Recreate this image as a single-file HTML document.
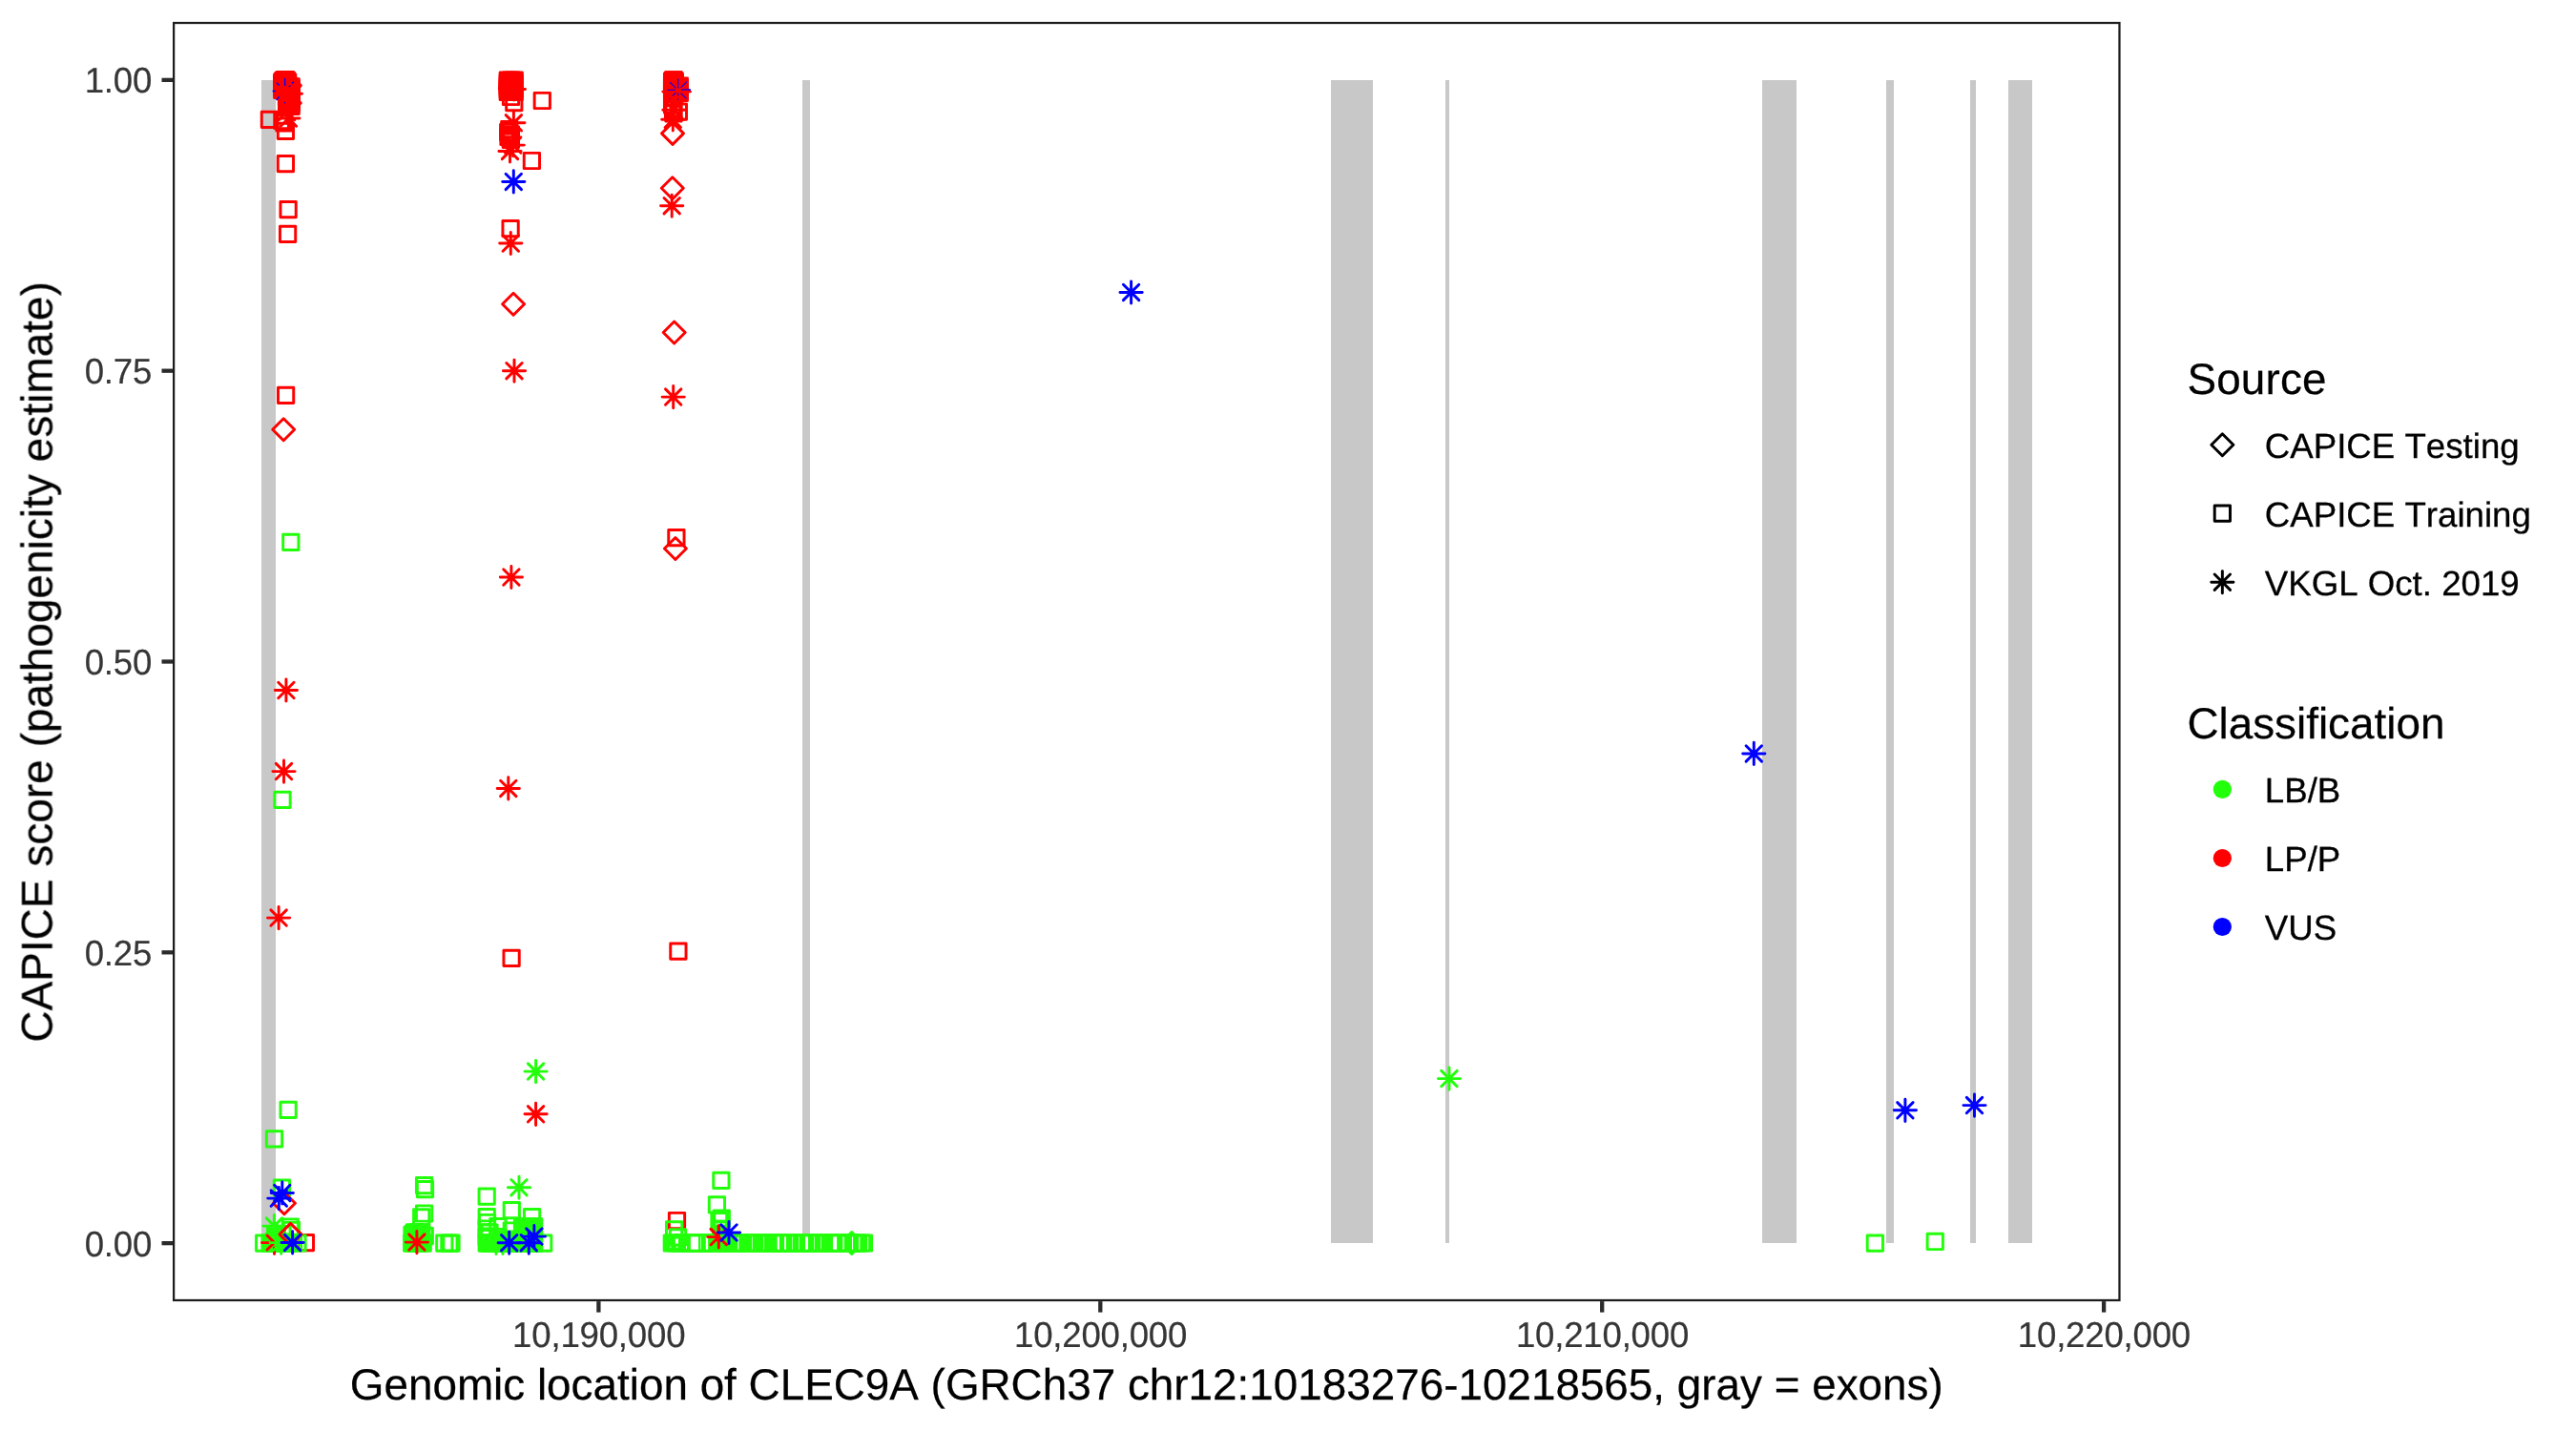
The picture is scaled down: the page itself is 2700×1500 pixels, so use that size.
<!DOCTYPE html>
<html><head><meta charset="utf-8"><title>CAPICE CLEC9A</title>
<style>html,body{margin:0;padding:0;background:#fff}svg{display:block}text{font-family:"Liberation Sans",sans-serif;font-kerning:none;font-variant-ligatures:none;text-rendering:geometricPrecision}</style></head><body>
<svg width="2700" height="1500" viewBox="0 0 2700 1500">
<rect width="2700" height="1500" fill="#fff"/>
<g fill="#C8C8C8" shape-rendering="crispEdges">
<rect x="274.05" y="83.86" width="14.55" height="1219.28"/>
<rect x="841" y="83.86" width="8" height="1219.28"/>
<rect x="1395" y="83.86" width="44" height="1219.28"/>
<rect x="1514.9" y="83.86" width="4.1" height="1219.28"/>
<rect x="1847.05" y="83.86" width="35.95" height="1219.28"/>
<rect x="1977" y="83.86" width="7.9" height="1219.28"/>
<rect x="2065.1" y="83.86" width="5.8" height="1219.28"/>
<rect x="2105" y="83.86" width="24.9" height="1219.28"/>
</g>
<g fill="none" stroke-width="2.95" stroke-linecap="round" stroke-linejoin="round">
<rect x="289.96" y="75.56" width="16.28" height="16.28" stroke="#FF0000"/>
<rect x="291.36" y="75.56" width="16.28" height="16.28" stroke="#FF0000"/>
<path d="M287 95.5H310.2M298.6 83.9V107.1M290.4 87.3L306.8 103.7M290.4 103.7L306.8 87.3" stroke="#0000FF"/>
<rect x="288.6" y="76" width="20.4" height="27" rx="2" fill="#FF0000" stroke="none"/>
<rect x="288.66" y="76.46" width="16.28" height="16.28" stroke="#FF0000"/>
<rect x="292.46" y="76.46" width="16.28" height="16.28" stroke="#FF0000"/>
<rect x="287.56" y="77.86" width="16.28" height="16.28" stroke="#FF0000"/>
<rect x="290.46" y="77.86" width="16.28" height="16.28" stroke="#FF0000"/>
<rect x="293.46" y="77.86" width="16.28" height="16.28" stroke="#FF0000"/>
<rect x="287.56" y="79.86" width="16.28" height="16.28" stroke="#FF0000"/>
<rect x="290.46" y="79.86" width="16.28" height="16.28" stroke="#FF0000"/>
<rect x="293.46" y="79.86" width="16.28" height="16.28" stroke="#FF0000"/>
<rect x="287.56" y="81.86" width="16.28" height="16.28" stroke="#FF0000"/>
<rect x="290.46" y="81.86" width="16.28" height="16.28" stroke="#FF0000"/>
<rect x="293.46" y="81.86" width="16.28" height="16.28" stroke="#FF0000"/>
<rect x="287.56" y="83.86" width="16.28" height="16.28" stroke="#FF0000"/>
<rect x="290.46" y="83.86" width="16.28" height="16.28" stroke="#FF0000"/>
<rect x="293.46" y="83.86" width="16.28" height="16.28" stroke="#FF0000"/>
<rect x="287.56" y="86.26" width="16.28" height="16.28" stroke="#FF0000"/>
<rect x="290.46" y="86.26" width="16.28" height="16.28" stroke="#FF0000"/>
<rect x="293.46" y="86.26" width="16.28" height="16.28" stroke="#FF0000"/>
<rect x="292.5" y="100" width="20.8" height="19.4" rx="2" fill="#FF0000" stroke="none"/>
<rect x="292.46" y="87.86" width="16.28" height="16.28" stroke="#FF0000"/>
<rect x="292.46" y="90.86" width="16.28" height="16.28" stroke="#FF0000"/>
<rect x="292.46" y="93.86" width="16.28" height="16.28" stroke="#FF0000"/>
<rect x="292.46" y="96.86" width="16.28" height="16.28" stroke="#FF0000"/>
<rect x="292.46" y="99.86" width="16.28" height="16.28" stroke="#FF0000"/>
<rect x="292.46" y="103.16" width="16.28" height="16.28" stroke="#FF0000"/>
<rect x="297.06" y="82.66" width="16.28" height="16.28" stroke="#FF0000"/>
<rect x="297.06" y="85.36" width="16.28" height="16.28" stroke="#FF0000"/>
<rect x="297.06" y="87.86" width="16.28" height="16.28" stroke="#FF0000"/>
<rect x="297.06" y="90.86" width="16.28" height="16.28" stroke="#FF0000"/>
<rect x="297.06" y="93.86" width="16.28" height="16.28" stroke="#FF0000"/>
<rect x="297.06" y="96.86" width="16.28" height="16.28" stroke="#FF0000"/>
<rect x="297.06" y="99.86" width="16.28" height="16.28" stroke="#FF0000"/>
<rect x="297.06" y="103.16" width="16.28" height="16.28" stroke="#FF0000"/>
<path d="M292.3 89.6L303.8 78.1L315.3 89.6L303.8 101.1Z" stroke="#FF0000"/>
<path d="M292.3 108L303.8 96.5L315.3 108L303.8 119.5Z" stroke="#FF0000"/>
<path d="M293.3 98.3H316.5M304.9 86.7V109.9M296.7 90.1L313.1 106.5M296.7 106.5L313.1 90.1" stroke="#FF0000"/>
<path d="M298.6 82.6V89.4M290.3 87l1.9 2M286.7 95.5h1.5M290.6 103.7l1.6-1.9M306.5 86.9l.9-.7M303.3 90.7l.6-.8M298.5 107.4v.4" stroke="#0000FF" stroke-width="1.5"/>
<rect x="274.26" y="117.16" width="16.28" height="16.28" stroke="#FF0000"/>
<rect x="289.76" y="120.66" width="16.28" height="16.28" stroke="#FF0000"/>
<rect x="287.76" y="118.36" width="16.28" height="16.28" stroke="#FF0000"/>
<path d="M290.8 124H314M302.4 112.4V135.6M294.2 115.8L310.6 132.2M294.2 132.2L310.6 115.8" stroke="#FF0000"/>
<path d="M288.9 117.5H312.1M300.5 105.9V129.1M292.3 109.3L308.7 125.7M292.3 125.7L308.7 109.3" stroke="#FF0000"/>
<rect x="291.26" y="129.16" width="16.28" height="16.28" stroke="#FF0000"/>
<rect x="291.26" y="163.46" width="16.28" height="16.28" stroke="#FF0000"/>
<rect x="293.96" y="211.56" width="16.28" height="16.28" stroke="#FF0000"/>
<rect x="293.46" y="237.26" width="16.28" height="16.28" stroke="#FF0000"/>
<rect x="291.46" y="406.26" width="16.28" height="16.28" stroke="#FF0000"/>
<path d="M285.7 450.3L297.2 438.8L308.7 450.3L297.2 461.8Z" stroke="#FF0000"/>
<rect x="296.66" y="560.16" width="16.28" height="16.28" stroke="#22FF0B"/>
<path d="M288.3 723.5H311.5M299.9 711.9V735.1M291.7 715.3L308.1 731.7M291.7 731.7L308.1 715.3" stroke="#FF0000"/>
<path d="M285.9 808.6H309.1M297.5 797V820.2M289.3 800.4L305.7 816.8M289.3 816.8L305.7 800.4" stroke="#FF0000"/>
<rect x="287.86" y="830.16" width="16.28" height="16.28" stroke="#22FF0B"/>
<path d="M280.5 962.1H303.7M292.1 950.5V973.7M283.9 953.9L300.3 970.3M283.9 970.3L300.3 953.9" stroke="#FF0000"/>
<rect x="293.96" y="1155.26" width="16.28" height="16.28" stroke="#22FF0B"/>
<rect x="279.36" y="1185.66" width="16.28" height="16.28" stroke="#22FF0B"/>
<rect x="287.26" y="1236.96" width="16.28" height="16.28" stroke="#22FF0B"/>
<path d="M286.4 1261.3L297.9 1249.8L309.4 1261.3L297.9 1272.8Z" stroke="#FF0000"/>
<path d="M284.2 1250.5H307.4M295.8 1238.9V1262.1M287.6 1242.3L304 1258.7M287.6 1258.7L304 1242.3" stroke="#0000FF"/>
<path d="M280.7 1256.1H303.9M292.3 1244.5V1267.7M284.1 1247.9L300.5 1264.3M284.1 1264.3L300.5 1247.9" stroke="#0000FF"/>
<path d="M275.9 1302.6H299.1M287.5 1291V1314.2M279.3 1294.4L295.7 1310.8M279.3 1310.8L295.7 1294.4" stroke="#FF0000"/>
<rect x="312.26" y="1294.46" width="16.28" height="16.28" stroke="#FF0000"/>
<rect x="275.5" y="1293.6" width="36" height="18.8" rx="2" fill="#22FF0B" stroke="none"/>
<rect x="279" y="1284" width="21" height="12" rx="2" fill="#22FF0B" stroke="none"/>
<rect x="268.56" y="1294.96" width="16.28" height="16.28" stroke="#22FF0B"/>
<rect x="274.86" y="1294.86" width="16.28" height="16.28" stroke="#22FF0B"/>
<rect x="280.36" y="1294.86" width="16.28" height="16.28" stroke="#22FF0B"/>
<rect x="285.86" y="1294.86" width="16.28" height="16.28" stroke="#22FF0B"/>
<rect x="290.86" y="1294.86" width="16.28" height="16.28" stroke="#22FF0B"/>
<rect x="295.36" y="1294.86" width="16.28" height="16.28" stroke="#22FF0B"/>
<rect x="299.36" y="1294.86" width="16.28" height="16.28" stroke="#22FF0B"/>
<rect x="303.86" y="1294.86" width="16.28" height="16.28" stroke="#22FF0B"/>
<rect x="296.06" y="1277.86" width="16.28" height="16.28" stroke="#22FF0B"/>
<rect x="297.26" y="1281.16" width="16.28" height="16.28" stroke="#22FF0B"/>
<rect x="287.86" y="1285.86" width="16.28" height="16.28" stroke="#22FF0B"/>
<rect x="281.86" y="1287.86" width="16.28" height="16.28" stroke="#22FF0B"/>
<path d="M275.8 1285.1H299M287.4 1273.5V1296.7M279.2 1276.9L295.6 1293.3M279.2 1293.3L295.6 1276.9" stroke="#22FF0B"/>
<path d="M278.9 1294H302.1M290.5 1282.4V1305.6M282.3 1285.8L298.7 1302.2M282.3 1302.2L298.7 1285.8" stroke="#22FF0B"/>
<path d="M274.5 1302.6h12M280 1295l7 7M280 1310l7-7M287.5 1314v-6" stroke="#FF0000"/>
<path d="M283.1 1302.6H306.3M294.7 1291V1314.2M286.5 1294.4L302.9 1310.8M286.5 1310.8L302.9 1294.4" stroke="#22FF0B"/>
<path d="M293 1293.9L304.5 1282.4L316 1293.9L304.5 1305.4Z" stroke="#FF0000"/>
<path d="M295 1302.4H318.2M306.6 1290.8V1314M298.4 1294.2L314.8 1310.6M298.4 1310.6L314.8 1294.2" stroke="#0000FF"/>
<rect x="436.46" y="1234.46" width="16.28" height="16.28" stroke="#22FF0B"/>
<rect x="437.36" y="1238.56" width="16.28" height="16.28" stroke="#22FF0B"/>
<rect x="436.46" y="1263.86" width="16.28" height="16.28" stroke="#22FF0B"/>
<rect x="433.56" y="1267.66" width="16.28" height="16.28" stroke="#22FF0B"/>
<rect x="423.5" y="1283.5" width="28" height="28" rx="2" fill="#22FF0B" stroke="none"/>
<rect x="423.56" y="1295.06" width="16.28" height="16.28" stroke="#22FF0B"/>
<rect x="427.36" y="1295.06" width="16.28" height="16.28" stroke="#22FF0B"/>
<rect x="431.36" y="1295.06" width="16.28" height="16.28" stroke="#22FF0B"/>
<rect x="435.06" y="1295.06" width="16.28" height="16.28" stroke="#22FF0B"/>
<rect x="426.36" y="1283.66" width="16.28" height="16.28" stroke="#22FF0B"/>
<rect x="430.36" y="1283.66" width="16.28" height="16.28" stroke="#22FF0B"/>
<rect x="433.36" y="1283.66" width="16.28" height="16.28" stroke="#22FF0B"/>
<rect x="423.86" y="1286.36" width="16.28" height="16.28" stroke="#22FF0B"/>
<rect x="437.16" y="1287.46" width="16.28" height="16.28" stroke="#22FF0B"/>
<path d="M425.3 1302.1H448.5M436.9 1290.5V1313.7M428.7 1293.9L445.1 1310.3M428.7 1310.3L445.1 1293.9" stroke="#FF0000"/>
<rect x="457.66" y="1294.96" width="16.28" height="16.28" stroke="#22FF0B"/>
<rect x="462.76" y="1294.96" width="16.28" height="16.28" stroke="#22FF0B"/>
<rect x="464.86" y="1294.96" width="16.28" height="16.28" stroke="#22FF0B"/>
<rect x="502.06" y="1246.06" width="16.28" height="16.28" stroke="#22FF0B"/>
<rect x="502.06" y="1267.46" width="16.28" height="16.28" stroke="#22FF0B"/>
<path d="M532.4 1244.7H555.6M544 1233.1V1256.3M535.8 1236.5L552.2 1252.9M535.8 1252.9L552.2 1236.5" stroke="#22FF0B"/>
<rect x="528.16" y="1260.56" width="16.28" height="16.28" stroke="#22FF0B"/>
<rect x="549.46" y="1267.46" width="16.28" height="16.28" stroke="#22FF0B"/>
<rect x="513.76" y="1277.56" width="16.28" height="16.28" stroke="#22FF0B"/>
<rect x="502.06" y="1279.86" width="16.28" height="16.28" stroke="#22FF0B"/>
<rect x="502.46" y="1273.36" width="16.28" height="16.28" stroke="#22FF0B"/>
<rect x="561.56" y="1294.96" width="16.28" height="16.28" stroke="#22FF0B"/>
<rect x="502" y="1293.5" width="66" height="19" rx="2" fill="#22FF0B" stroke="none"/>
<rect x="539" y="1277.5" width="29.5" height="18.5" rx="2" fill="#22FF0B" stroke="none"/>
<rect x="514" y="1290" width="31" height="6" rx="1" fill="#22FF0B" stroke="none"/>
<rect x="502.06" y="1294.96" width="16.28" height="16.28" stroke="#22FF0B"/>
<rect x="505.86" y="1294.96" width="16.28" height="16.28" stroke="#22FF0B"/>
<rect x="509.86" y="1294.96" width="16.28" height="16.28" stroke="#22FF0B"/>
<rect x="513.86" y="1294.96" width="16.28" height="16.28" stroke="#22FF0B"/>
<rect x="517.86" y="1294.96" width="16.28" height="16.28" stroke="#22FF0B"/>
<rect x="521.86" y="1294.96" width="16.28" height="16.28" stroke="#22FF0B"/>
<rect x="525.86" y="1294.96" width="16.28" height="16.28" stroke="#22FF0B"/>
<rect x="529.86" y="1294.96" width="16.28" height="16.28" stroke="#22FF0B"/>
<rect x="533.86" y="1294.96" width="16.28" height="16.28" stroke="#22FF0B"/>
<rect x="537.86" y="1294.96" width="16.28" height="16.28" stroke="#22FF0B"/>
<rect x="541.86" y="1294.96" width="16.28" height="16.28" stroke="#22FF0B"/>
<rect x="545.86" y="1294.96" width="16.28" height="16.28" stroke="#22FF0B"/>
<rect x="548.86" y="1294.96" width="16.28" height="16.28" stroke="#22FF0B"/>
<rect x="551.56" y="1294.96" width="16.28" height="16.28" stroke="#22FF0B"/>
<rect x="502.06" y="1287.86" width="16.28" height="16.28" stroke="#22FF0B"/>
<rect x="504.86" y="1283.86" width="16.28" height="16.28" stroke="#22FF0B"/>
<rect x="513.86" y="1288.36" width="16.28" height="16.28" stroke="#22FF0B"/>
<rect x="521.86" y="1290.86" width="16.28" height="16.28" stroke="#22FF0B"/>
<rect x="528.16" y="1281.86" width="16.28" height="16.28" stroke="#22FF0B"/>
<rect x="539.36" y="1277.76" width="16.28" height="16.28" stroke="#22FF0B"/>
<rect x="543.86" y="1277.76" width="16.28" height="16.28" stroke="#22FF0B"/>
<rect x="547.86" y="1277.76" width="16.28" height="16.28" stroke="#22FF0B"/>
<rect x="551.56" y="1277.76" width="16.28" height="16.28" stroke="#22FF0B"/>
<rect x="550.86" y="1280.86" width="16.28" height="16.28" stroke="#22FF0B"/>
<path d="M508.4 1303H531.6M520 1291.4V1314.6M511.8 1294.8L528.2 1311.2M511.8 1311.2L528.2 1294.8" stroke="#22FF0B"/>
<path d="M515.4 1303H538.6M527 1291.4V1314.6M518.8 1294.8L535.2 1311.2M518.8 1311.2L535.2 1294.8" stroke="#22FF0B"/>
<path d="M522.1 1302.7H545.3M533.7 1291.1V1314.3M525.5 1294.5L541.9 1310.9M525.5 1310.9L541.9 1294.5" stroke="#0000FF"/>
<path d="M542.7 1302.7H565.9M554.3 1291.1V1314.3M546.1 1294.5L562.5 1310.9M546.1 1310.9L562.5 1294.5" stroke="#0000FF"/>
<path d="M548.3 1296.1H571.5M559.9 1284.5V1307.7M551.7 1287.9L568.1 1304.3M551.7 1304.3L568.1 1287.9" stroke="#0000FF"/>
<rect x="524.2" y="76.1" width="23.1" height="28.5" rx="2" fill="#FF0000" stroke="none"/>
<rect x="524.16" y="76.06" width="16.28" height="16.28" stroke="#FF0000"/>
<rect x="527.56" y="76.06" width="16.28" height="16.28" stroke="#FF0000"/>
<rect x="531.06" y="76.06" width="16.28" height="16.28" stroke="#FF0000"/>
<rect x="524.16" y="78.36" width="16.28" height="16.28" stroke="#FF0000"/>
<rect x="527.56" y="78.36" width="16.28" height="16.28" stroke="#FF0000"/>
<rect x="531.06" y="78.36" width="16.28" height="16.28" stroke="#FF0000"/>
<rect x="524.16" y="80.86" width="16.28" height="16.28" stroke="#FF0000"/>
<rect x="527.56" y="80.86" width="16.28" height="16.28" stroke="#FF0000"/>
<rect x="531.06" y="80.86" width="16.28" height="16.28" stroke="#FF0000"/>
<rect x="524.16" y="83.36" width="16.28" height="16.28" stroke="#FF0000"/>
<rect x="527.56" y="83.36" width="16.28" height="16.28" stroke="#FF0000"/>
<rect x="531.06" y="83.36" width="16.28" height="16.28" stroke="#FF0000"/>
<rect x="524.16" y="85.86" width="16.28" height="16.28" stroke="#FF0000"/>
<rect x="527.56" y="85.86" width="16.28" height="16.28" stroke="#FF0000"/>
<rect x="531.06" y="85.86" width="16.28" height="16.28" stroke="#FF0000"/>
<rect x="524.16" y="88.36" width="16.28" height="16.28" stroke="#FF0000"/>
<rect x="527.56" y="88.36" width="16.28" height="16.28" stroke="#FF0000"/>
<rect x="531.06" y="88.36" width="16.28" height="16.28" stroke="#FF0000"/>
<path d="M523.3 92.7H546.5M534.9 81.1V104.3M526.7 84.5L543.1 100.9M526.7 100.9L543.1 84.5" stroke="#FF0000"/>
<path d="M527.3 93.4H550.5M538.9 81.8V105M530.7 85.2L547.1 101.6M530.7 101.6L547.1 85.2" stroke="#FF0000"/>
<rect x="527.36" y="93.36" width="16.28" height="16.28" stroke="#FF0000"/>
<rect x="530.66" y="99.56" width="16.28" height="16.28" stroke="#FF0000"/>
<rect x="560.16" y="97.36" width="16.28" height="16.28" stroke="#FF0000"/>
<path d="M526.8 128.8H550M538.4 117.2V140.4M530.2 120.6L546.6 137M530.2 137L546.6 120.6" stroke="#FF0000"/>
<rect x="525.5" y="128" width="17" height="26" rx="2" fill="#FF0000" stroke="none"/>
<rect x="529" y="130.9" width="7.4" height="2.6" fill="#fff" stroke="none"/>
<rect x="529" y="141.7" width="7.4" height="5.6" fill="#fff" stroke="none"/>
<rect x="525.66" y="127.56" width="16.28" height="16.28" stroke="#FF0000"/>
<rect x="524.56" y="130.36" width="16.28" height="16.28" stroke="#FF0000"/>
<rect x="527.26" y="132.86" width="16.28" height="16.28" stroke="#FF0000"/>
<rect x="524.86" y="135.36" width="16.28" height="16.28" stroke="#FF0000"/>
<rect x="527.26" y="138.36" width="16.28" height="16.28" stroke="#FF0000"/>
<path d="M526.1 152.1H549.3M537.7 140.5V163.7M529.5 143.9L545.9 160.3M529.5 160.3L545.9 143.9" stroke="#FF0000"/>
<path d="M522.9 158.4H546.1M534.5 146.8V170M526.3 150.2L542.7 166.6M526.3 166.6L542.7 150.2" stroke="#FF0000"/>
<rect x="549.26" y="160.36" width="16.28" height="16.28" stroke="#FF0000"/>
<path d="M526.7 190.4H549.9M538.3 178.8V202M530.1 182.2L546.5 198.6M530.1 198.6L546.5 182.2" stroke="#0000FF"/>
<rect x="526.96" y="231.46" width="16.28" height="16.28" stroke="#FF0000"/>
<path d="M523.7 255H546.9M535.3 243.4V266.6M527.1 246.8L543.5 263.2M527.1 263.2L543.5 246.8" stroke="#FF0000"/>
<path d="M526.6 318.8L538.1 307.3L549.6 318.8L538.1 330.3Z" stroke="#FF0000"/>
<path d="M527.4 388.7H550.6M539 377.1V400.3M530.8 380.5L547.2 396.9M530.8 396.9L547.2 380.5" stroke="#FF0000"/>
<path d="M524.3 605H547.5M535.9 593.4V616.6M527.7 596.8L544.1 613.2M527.7 613.2L544.1 596.8" stroke="#FF0000"/>
<path d="M521.2 826.4H544.4M532.8 814.8V838M524.6 818.2L541 834.6M524.6 834.6L541 818.2" stroke="#FF0000"/>
<rect x="527.96" y="996.16" width="16.28" height="16.28" stroke="#FF0000"/>
<path d="M550 1123.1H573.2M561.6 1111.5V1134.7M553.4 1114.9L569.8 1131.3M553.4 1131.3L569.8 1114.9" stroke="#22FF0B"/>
<path d="M550 1167.8H573.2M561.6 1156.2V1179.4M553.4 1159.6L569.8 1176M553.4 1176L569.8 1159.6" stroke="#FF0000"/>
<path d="M699.1 94.6H722.3M710.7 83V106.2M702.5 86.4L718.9 102.8M702.5 102.8L718.9 86.4" stroke="#0000FF"/>
<rect x="697.5" y="77" width="16.9" height="29.5" rx="2" fill="#FF0000" stroke="none"/>
<rect x="700" y="82" width="20.4" height="23.5" rx="2" fill="#FF0000" stroke="none"/>
<rect x="697.46" y="75.66" width="16.28" height="16.28" stroke="#FF0000"/>
<rect x="698.16" y="75.66" width="16.28" height="16.28" stroke="#FF0000"/>
<rect x="696.46" y="76.86" width="16.28" height="16.28" stroke="#FF0000"/>
<rect x="699.16" y="76.86" width="16.28" height="16.28" stroke="#FF0000"/>
<rect x="696.46" y="78.86" width="16.28" height="16.28" stroke="#FF0000"/>
<rect x="699.16" y="78.86" width="16.28" height="16.28" stroke="#FF0000"/>
<rect x="696.46" y="80.86" width="16.28" height="16.28" stroke="#FF0000"/>
<rect x="699.16" y="80.86" width="16.28" height="16.28" stroke="#FF0000"/>
<rect x="696.46" y="82.86" width="16.28" height="16.28" stroke="#FF0000"/>
<rect x="699.16" y="82.86" width="16.28" height="16.28" stroke="#FF0000"/>
<rect x="696.46" y="85.36" width="16.28" height="16.28" stroke="#FF0000"/>
<rect x="699.16" y="85.36" width="16.28" height="16.28" stroke="#FF0000"/>
<rect x="696.46" y="87.86" width="16.28" height="16.28" stroke="#FF0000"/>
<rect x="699.16" y="87.86" width="16.28" height="16.28" stroke="#FF0000"/>
<rect x="696.46" y="89.96" width="16.28" height="16.28" stroke="#FF0000"/>
<rect x="699.16" y="89.96" width="16.28" height="16.28" stroke="#FF0000"/>
<rect x="704.16" y="81.86" width="16.28" height="16.28" stroke="#FF0000"/>
<rect x="704.16" y="84.36" width="16.28" height="16.28" stroke="#FF0000"/>
<rect x="704.16" y="86.86" width="16.28" height="16.28" stroke="#FF0000"/>
<rect x="704.16" y="89.36" width="16.28" height="16.28" stroke="#FF0000"/>
<path d="M694.8 96.1H718M706.4 84.5V107.7M698.2 87.9L714.6 104.3M698.2 104.3L714.6 87.9" stroke="#FF0000"/>
<path d="M700.3 96.1H723.5M711.9 84.5V107.7M703.7 87.9L720.1 104.3M703.7 104.3L720.1 87.9" stroke="#FF0000"/>
<path d="M699.5 94.3h8M714.5 94h9M710.7 83v9M710.7 98v8M702.5 86.5l5.5 5.5M714 91.5l5.5-5.5M702.5 103l5.5-5.5M714 98l5 5" stroke="#0000FF" stroke-width="1.3" opacity="0.85"/>
<rect x="696.46" y="101.86" width="16.28" height="16.28" stroke="#FF0000"/>
<rect x="697.46" y="106.36" width="16.28" height="16.28" stroke="#FF0000"/>
<rect x="703.26" y="108.96" width="16.28" height="16.28" stroke="#FF0000"/>
<rect x="697.86" y="110.86" width="16.28" height="16.28" stroke="#FF0000"/>
<path d="M694.8 115.3H718M706.4 103.7V126.9M698.2 107.1L714.6 123.5M698.2 123.5L714.6 107.1" stroke="#FF0000"/>
<path d="M693.7 125.3H716.9M705.3 113.7V136.9M697.1 117.1L713.5 133.5M697.1 133.5L713.5 117.1" stroke="#FF0000"/>
<path d="M693.5 139.9L705 128.4L716.5 139.9L705 151.4Z" stroke="#FF0000"/>
<path d="M693.3 197.2L704.8 185.7L716.3 197.2L704.8 208.7Z" stroke="#FF0000"/>
<path d="M692.6 215.7H715.8M704.2 204.1V227.3M696 207.5L712.4 223.9M696 223.9L712.4 207.5" stroke="#FF0000"/>
<path d="M695.2 348.5L706.7 337L718.2 348.5L706.7 360Z" stroke="#FF0000"/>
<path d="M694.1 416.1H717.3M705.7 404.5V427.7M697.5 407.9L713.9 424.3M697.5 424.3L713.9 407.9" stroke="#FF0000"/>
<rect x="700.76" y="555.56" width="16.28" height="16.28" stroke="#FF0000"/>
<path d="M696.4 575L707.9 563.5L719.4 575L707.9 586.5Z" stroke="#FF0000"/>
<rect x="702.76" y="989.06" width="16.28" height="16.28" stroke="#FF0000"/>
<rect x="747.76" y="1229.26" width="16.28" height="16.28" stroke="#22FF0B"/>
<rect x="743.26" y="1254.76" width="16.28" height="16.28" stroke="#22FF0B"/>
<rect x="748.16" y="1268.86" width="16.28" height="16.28" stroke="#22FF0B"/>
<rect x="745.86" y="1272.86" width="16.28" height="16.28" stroke="#22FF0B"/>
<rect x="747.36" y="1279.86" width="16.28" height="16.28" stroke="#22FF0B"/>
<rect x="701.36" y="1271.36" width="16.28" height="16.28" stroke="#FF0000"/>
<rect x="698.46" y="1280.66" width="16.28" height="16.28" stroke="#22FF0B"/>
<rect x="702.36" y="1288.66" width="16.28" height="16.28" stroke="#22FF0B"/>
<rect x="746.5" y="1270" width="18" height="26" rx="2" fill="#22FF0B" stroke="none"/>
<rect x="750.2" y="1273" width="10" height="5.6" fill="#fff" stroke="none"/>
<rect x="750.2" y="1282.2" width="10" height="1.6" fill="#fff" stroke="none" opacity="0.6"/>
<path d="M741.7 1296.6H764.9M753.3 1285V1308.2M745.1 1288.4L761.5 1304.8M745.1 1304.8L761.5 1288.4" stroke="#FF0000"/>
<rect x="696.2" y="1294.9" width="217.2" height="16.4" rx="1.5" fill="#22FF0B" stroke="none"/>
<rect x="696.16" y="1294.86" width="16.28" height="16.28" stroke="#22FF0B"/>
<rect x="699.76" y="1294.86" width="16.28" height="16.28" stroke="#22FF0B"/>
<rect x="703.36" y="1294.86" width="16.28" height="16.28" stroke="#22FF0B"/>
<rect x="706.96" y="1294.86" width="16.28" height="16.28" stroke="#22FF0B"/>
<rect x="710.56" y="1294.86" width="16.28" height="16.28" stroke="#22FF0B"/>
<rect x="714.16" y="1294.86" width="16.28" height="16.28" stroke="#22FF0B"/>
<rect x="717.76" y="1294.86" width="16.28" height="16.28" stroke="#22FF0B"/>
<rect x="721.36" y="1294.86" width="16.28" height="16.28" stroke="#22FF0B"/>
<rect x="724.96" y="1294.86" width="16.28" height="16.28" stroke="#22FF0B"/>
<rect x="728.56" y="1294.86" width="16.28" height="16.28" stroke="#22FF0B"/>
<rect x="732.16" y="1294.86" width="16.28" height="16.28" stroke="#22FF0B"/>
<rect x="735.76" y="1294.86" width="16.28" height="16.28" stroke="#22FF0B"/>
<rect x="739.36" y="1294.86" width="16.28" height="16.28" stroke="#22FF0B"/>
<rect x="742.96" y="1294.86" width="16.28" height="16.28" stroke="#22FF0B"/>
<rect x="746.56" y="1294.86" width="16.28" height="16.28" stroke="#22FF0B"/>
<rect x="750.16" y="1294.86" width="16.28" height="16.28" stroke="#22FF0B"/>
<rect x="753.76" y="1294.86" width="16.28" height="16.28" stroke="#22FF0B"/>
<rect x="757.36" y="1294.86" width="16.28" height="16.28" stroke="#22FF0B"/>
<rect x="760.96" y="1294.86" width="16.28" height="16.28" stroke="#22FF0B"/>
<rect x="764.56" y="1294.86" width="16.28" height="16.28" stroke="#22FF0B"/>
<rect x="768.16" y="1294.86" width="16.28" height="16.28" stroke="#22FF0B"/>
<rect x="771.76" y="1294.86" width="16.28" height="16.28" stroke="#22FF0B"/>
<rect x="775.36" y="1294.86" width="16.28" height="16.28" stroke="#22FF0B"/>
<rect x="778.96" y="1294.86" width="16.28" height="16.28" stroke="#22FF0B"/>
<rect x="782.56" y="1294.86" width="16.28" height="16.28" stroke="#22FF0B"/>
<rect x="786.16" y="1294.86" width="16.28" height="16.28" stroke="#22FF0B"/>
<rect x="789.76" y="1294.86" width="16.28" height="16.28" stroke="#22FF0B"/>
<rect x="793.36" y="1294.86" width="16.28" height="16.28" stroke="#22FF0B"/>
<rect x="796.96" y="1294.86" width="16.28" height="16.28" stroke="#22FF0B"/>
<rect x="800.56" y="1294.86" width="16.28" height="16.28" stroke="#22FF0B"/>
<rect x="804.16" y="1294.86" width="16.28" height="16.28" stroke="#22FF0B"/>
<rect x="807.76" y="1294.86" width="16.28" height="16.28" stroke="#22FF0B"/>
<rect x="811.36" y="1294.86" width="16.28" height="16.28" stroke="#22FF0B"/>
<rect x="814.96" y="1294.86" width="16.28" height="16.28" stroke="#22FF0B"/>
<rect x="818.56" y="1294.86" width="16.28" height="16.28" stroke="#22FF0B"/>
<rect x="822.16" y="1294.86" width="16.28" height="16.28" stroke="#22FF0B"/>
<rect x="825.76" y="1294.86" width="16.28" height="16.28" stroke="#22FF0B"/>
<rect x="829.36" y="1294.86" width="16.28" height="16.28" stroke="#22FF0B"/>
<rect x="832.96" y="1294.86" width="16.28" height="16.28" stroke="#22FF0B"/>
<rect x="836.56" y="1294.86" width="16.28" height="16.28" stroke="#22FF0B"/>
<rect x="840.16" y="1294.86" width="16.28" height="16.28" stroke="#22FF0B"/>
<rect x="843.76" y="1294.86" width="16.28" height="16.28" stroke="#22FF0B"/>
<rect x="847.36" y="1294.86" width="16.28" height="16.28" stroke="#22FF0B"/>
<rect x="850.96" y="1294.86" width="16.28" height="16.28" stroke="#22FF0B"/>
<rect x="854.56" y="1294.86" width="16.28" height="16.28" stroke="#22FF0B"/>
<rect x="858.16" y="1294.86" width="16.28" height="16.28" stroke="#22FF0B"/>
<rect x="861.76" y="1294.86" width="16.28" height="16.28" stroke="#22FF0B"/>
<rect x="865.36" y="1294.86" width="16.28" height="16.28" stroke="#22FF0B"/>
<rect x="868.96" y="1294.86" width="16.28" height="16.28" stroke="#22FF0B"/>
<rect x="872.56" y="1294.86" width="16.28" height="16.28" stroke="#22FF0B"/>
<rect x="876.16" y="1294.86" width="16.28" height="16.28" stroke="#22FF0B"/>
<rect x="879.76" y="1294.86" width="16.28" height="16.28" stroke="#22FF0B"/>
<rect x="883.36" y="1294.86" width="16.28" height="16.28" stroke="#22FF0B"/>
<rect x="886.96" y="1294.86" width="16.28" height="16.28" stroke="#22FF0B"/>
<rect x="890.56" y="1294.86" width="16.28" height="16.28" stroke="#22FF0B"/>
<rect x="894.16" y="1294.86" width="16.28" height="16.28" stroke="#22FF0B"/>
<rect x="897.26" y="1294.86" width="16.28" height="16.28" stroke="#22FF0B"/>
<path d="M881.2 1303L892.7 1291.5L904.2 1303L892.7 1314.5Z" stroke="#22FF0B"/>
<rect x="723.9" y="1296.4" width="8.1" height="13.3" fill="#fff" stroke="none"/>
<rect x="734.2" y="1296.4" width="0.6" height="13.3" fill="#fff" stroke="none"/>
<rect x="739.8" y="1296.4" width="2.3" height="13.3" fill="#fff" stroke="none"/>
<rect x="773.2" y="1296.4" width="1.1" height="13.3" fill="#fff" stroke="none"/>
<rect x="788.1" y="1296.4" width="0.6" height="13.3" fill="#fff" stroke="none"/>
<rect x="800.4" y="1296.4" width="0.6" height="13.3" fill="#fff" stroke="none"/>
<rect x="814.7" y="1296.4" width="2.2" height="13.3" fill="#fff" stroke="none"/>
<rect x="822.1" y="1296.4" width="1.9" height="13.3" fill="#fff" stroke="none"/>
<rect x="830.2" y="1296.4" width="0.6" height="13.3" fill="#fff" stroke="none"/>
<rect x="837" y="1296.4" width="0.6" height="13.3" fill="#fff" stroke="none"/>
<rect x="844" y="1296.4" width="3" height="13.3" fill="#fff" stroke="none"/>
<rect x="853.3" y="1296.4" width="0.6" height="13.3" fill="#fff" stroke="none"/>
<rect x="860.3" y="1296.4" width="0.6" height="13.3" fill="#fff" stroke="none"/>
<rect x="873" y="1296.4" width="4.1" height="13.3" fill="#fff" stroke="none"/>
<rect x="883.4" y="1296.4" width="1.3" height="13.3" fill="#fff" stroke="none"/>
<rect x="893" y="1296.4" width="1" height="13.3" fill="#fff" stroke="none"/>
<rect x="900.2" y="1296.4" width="1.1" height="13.3" fill="#fff" stroke="none"/>
<rect x="909.1" y="1296.4" width="1" height="13.3" fill="#fff" stroke="none"/>
<rect x="707.9" y="1298.5" width="3.1" height="5" fill="#fff" stroke="none"/>
<rect x="702.3" y="1306.5" width="1" height="1.2" fill="#fff" stroke="none"/><rect x="708.8" y="1306.5" width="1.6" height="1.2" fill="#fff" stroke="none"/><rect x="719" y="1306" width="0.9" height="3" fill="#fff" stroke="none"/>
<path d="M741.7 1296.6h11M745.1 1288.4l8.2 8.2M745.1 1304.8l8.2-8.2M753.3 1285v23M753.3 1296.6l8.2 8.2" stroke="#FF0000"/>
<path d="M752.4 1292H775.6M764 1280.4V1303.6M755.8 1283.8L772.2 1300.2M755.8 1300.2L772.2 1283.8" stroke="#0000FF"/>
<path d="M1174 306.45H1197.2M1185.6 294.85V318.05M1177.4 298.25L1193.8 314.65M1177.4 314.65L1193.8 298.25" stroke="#0000FF"/>
<path d="M1826.7 789.9H1849.9M1838.3 778.3V801.5M1830.1 781.7L1846.5 798.1M1830.1 798.1L1846.5 781.7" stroke="#0000FF"/>
<path d="M1507.35 1130.6H1530.55M1518.95 1119V1142.2M1510.75 1122.4L1527.15 1138.8M1510.75 1138.8L1527.15 1122.4" stroke="#22FF0B"/>
<path d="M1985.3 1163.8H2008.5M1996.9 1152.2V1175.4M1988.7 1155.6L2005.1 1172M1988.7 1172L2005.1 1155.6" stroke="#0000FF"/>
<path d="M2057.9 1158.6H2081.1M2069.5 1147V1170.2M2061.3 1150.4L2077.7 1166.8M2061.3 1166.8L2077.7 1150.4" stroke="#0000FF"/>
<rect x="1957.21" y="1294.93" width="16.28" height="16.28" stroke="#22FF0B"/>
<rect x="2020.12" y="1293.34" width="16.28" height="16.28" stroke="#22FF0B"/>
</g>
<rect x="182.12" y="24.02" width="2039.35" height="1338.95" fill="none" stroke="#1c1c1c" stroke-width="2.25"/>
<g stroke="#2b2b2b" stroke-width="4.3">
<path d="M627.4 1364.1v11.5"/>
<path d="M1153.3 1364.1v11.5"/>
<path d="M1679.2 1364.1v11.5"/>
<path d="M2205.1 1364.1v11.5"/>
<path d="M181 83.86h-11.5"/>
<path d="M181 388.68h-11.5"/>
<path d="M181 693.5h-11.5"/>
<path d="M181 998.32h-11.5"/>
<path d="M181 1303.14h-11.5"/>
</g>
<g opacity="0.999">
<g font-size="36.67" fill="#363636" stroke="#363636" stroke-width="0.2" letter-spacing="-0.23">
<text transform="translate(627.7 1412.3) scale(1 1.022)" text-anchor="middle">10,190,000</text>
<text transform="translate(1153.6 1412.3) scale(1 1.022)" text-anchor="middle">10,200,000</text>
<text transform="translate(1679.5 1412.3) scale(1 1.022)" text-anchor="middle">10,210,000</text>
<text transform="translate(2205.4 1412.3) scale(1 1.022)" text-anchor="middle">10,220,000</text>
<text transform="translate(159.1 97) scale(1 1.022)" text-anchor="end">1.00</text>
<text transform="translate(159.1 402) scale(1 1.022)" text-anchor="end">0.75</text>
<text transform="translate(159.1 707) scale(1 1.022)" text-anchor="end">0.50</text>
<text transform="translate(159.1 1012) scale(1 1.022)" text-anchor="end">0.25</text>
<text transform="translate(159.1 1317) scale(1 1.022)" text-anchor="end">0.00</text>
</g>
<g font-size="45.83" fill="#000" stroke="#000" stroke-width="0.25">
<text x="1201.8" y="1466.9" text-anchor="middle">Genomic location of CLEC9A (GRCh37 chr12:10183276-10218565, gray = exons)</text>
<text transform="translate(54.5 693.8) rotate(-90)" text-anchor="middle" letter-spacing="0.075">CAPICE score (pathogenicity estimate)</text>
<text x="2292.4" y="413.4" letter-spacing="0.2">Source</text>
<text x="2292.4" y="773.9">Classification</text>
</g>
<g font-size="36.67" fill="#000" stroke="#000" stroke-width="0.3">
<text x="2373.8" y="480.3">CAPICE Testing</text>
<text x="2373.8" y="552.3">CAPICE Training</text>
<text x="2373.8" y="624.3">VKGL Oct. 2019</text>
<text x="2373.8" y="841">LB/B</text>
<text x="2373.8" y="913">LP/P</text>
<text x="2373.8" y="985">VUS</text>
</g>
</g>
<g fill="none" stroke-width="2.95" stroke-linecap="round" stroke-linejoin="round">
<path d="M2317.85 466.2L2329.35 454.7L2340.85 466.2L2329.35 477.7Z" stroke="#000000"/>
<rect x="2321.21" y="529.96" width="16.28" height="16.28" stroke="#000000"/>
<path d="M2317.75 610.2H2340.95M2329.35 598.6V621.8M2321.15 602L2337.55 618.4M2321.15 618.4L2337.55 602" stroke="#000000"/>
</g>
<circle cx="2329.35" cy="827.4" r="9.6" fill="#22FF0B"/>
<circle cx="2329.35" cy="899.5" r="9.6" fill="#FF0000"/>
<circle cx="2329.35" cy="971.5" r="9.6" fill="#0000FF"/>
</svg></body></html>
